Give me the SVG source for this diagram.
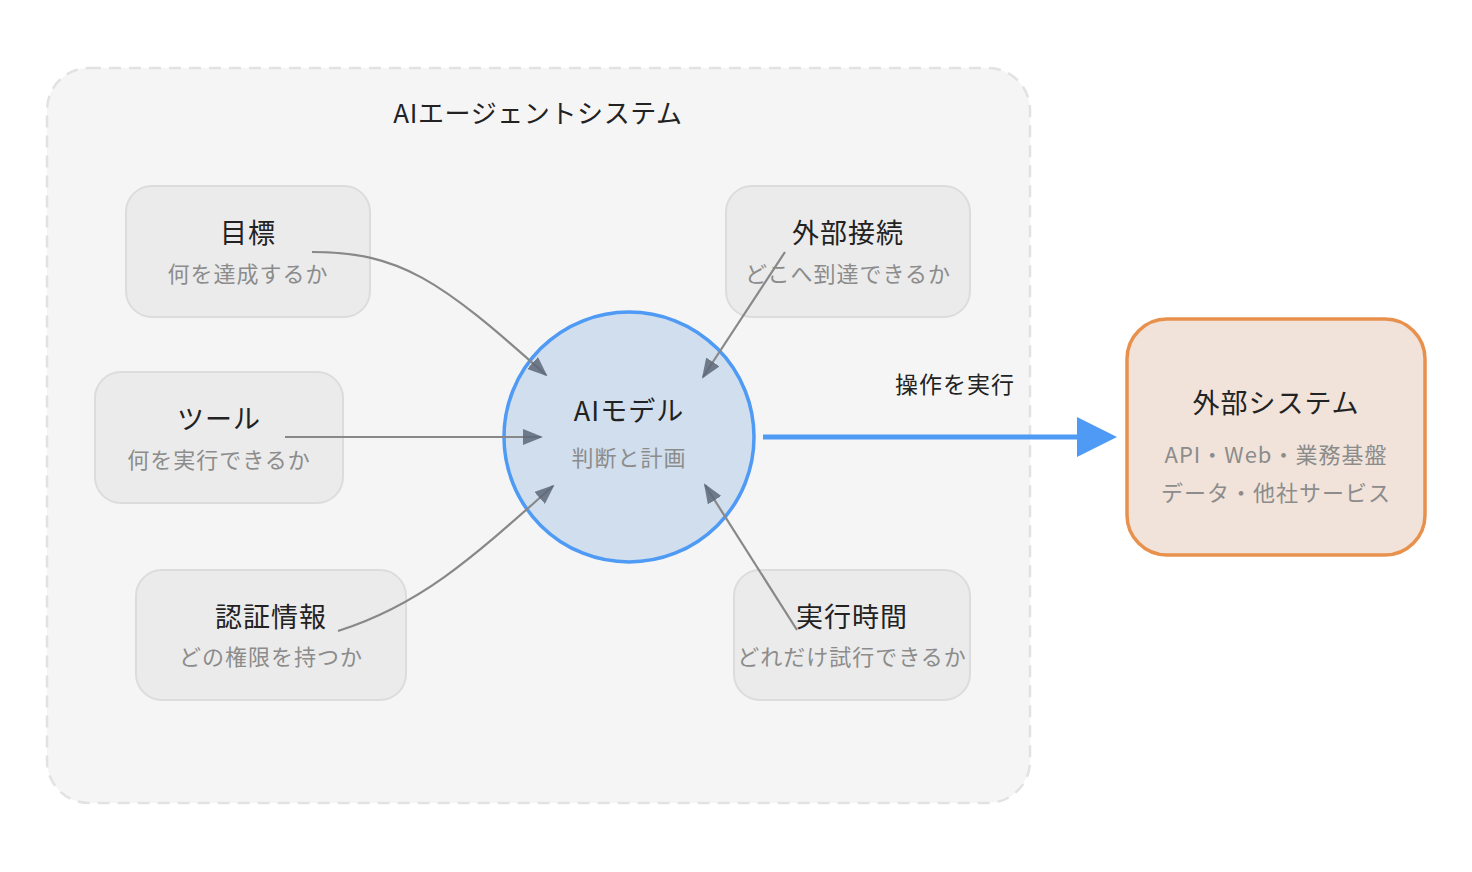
<svg xmlns="http://www.w3.org/2000/svg" width="1472" height="872" viewBox="0 0 1472 872">
<style>
text{font-family:"Noto Sans CJK JP","Noto Sans",sans-serif;text-anchor:middle;}
.t{font-size:27px;fill:#222;letter-spacing:1px;}
.s{font-size:22px;fill:#8c8c8c;letter-spacing:1px;}
.box{fill:#ebebeb;stroke:#dcdcdc;stroke-width:2;}
.con{fill:none;stroke:#888;stroke-width:2.2;}
</style>
<defs>
<marker id="ah" viewBox="0 0 20 16" refX="18" refY="8" markerWidth="20" markerHeight="16" markerUnits="userSpaceOnUse" orient="auto">
<path d="M0,0 L20,8 L0,16 Z" fill="#5d6878" fill-opacity="0.85"/>
</marker>
</defs>
<rect width="1472" height="872" fill="#ffffff"/>
<g id="container">
<rect x="47" y="68" width="983" height="735" rx="42" fill="#f5f5f5" stroke="#e2e2e2" stroke-width="2.5" stroke-dasharray="12 8"/>
<text x="538" y="123" style="font-size:26px;fill:#222;letter-spacing:0.6px;">AIエージェントシステム</text>
</g>
<g id="goal">
<rect class="box" x="126" y="186" width="244" height="131" rx="26"/>
<text class="t" x="248" y="243">目標</text>
<text class="s" x="248" y="282">何を達成するか</text>
</g>
<g id="tool">
<rect class="box" x="95" y="372" width="248" height="131" rx="26"/>
<text class="t" x="219" y="429">ツール</text>
<text class="s" x="219" y="468">何を実行できるか</text>
</g>
<g id="auth">
<rect class="box" x="136" y="570" width="270" height="130" rx="26"/>
<text class="t" x="271" y="627">認証情報</text>
<text class="s" x="271" y="665">どの権限を持つか</text>
</g>
<g id="extconn">
<rect class="box" x="726" y="186" width="244" height="131" rx="26"/>
<text class="t" x="848" y="243">外部接続</text>
<text class="s" x="848" y="282">どこへ到達できるか</text>
</g>
<g id="runtime">
<rect class="box" x="734" y="570" width="236" height="130" rx="26"/>
<text class="t" x="852" y="627">実行時間</text>
<text class="s" x="852" y="665">どれだけ試行できるか</text>
</g>
<g id="model">
<circle cx="629" cy="437" r="125" fill="#d0deed" stroke="#4e9af4" stroke-width="3.5"/>
<text class="t" x="629" y="421">AIモデル</text>
<text class="s" x="629" y="466">判断と計画</text>
</g>
<g id="external">
<rect x="1127" y="319" width="298" height="236" rx="40" fill="#f1e3da" stroke="#e8914d" stroke-width="3.5"/>
<text class="t" x="1276" y="413">外部システム</text>
<text class="s" x="1276" y="463">API・Web・業務基盤</text>
<text class="s" x="1276" y="501">データ・他社サービス</text>
</g>
<g id="connectors">
<path class="con" d="M312,252 C400,252 440,280 546,375" marker-end="url(#ah)"/>
<path class="con" d="M285,437 L541,437" marker-end="url(#ah)"/>
<path class="con" d="M338,631 C420,605 470,560 553,486" marker-end="url(#ah)"/>
<path class="con" d="M785,252 L703,377" marker-end="url(#ah)"/>
<path class="con" d="M797,630 L705,485" marker-end="url(#ah)"/>
<line x1="763" y1="437" x2="1080" y2="437" stroke="#4e9af4" stroke-width="5"/>
<path d="M1077,417 L1117,437 L1077,457 Z" fill="#4e9af4"/>
<text x="955" y="393" style="font-size:23px;fill:#222;letter-spacing:1px;">操作を実行</text>
</g>
</svg>
